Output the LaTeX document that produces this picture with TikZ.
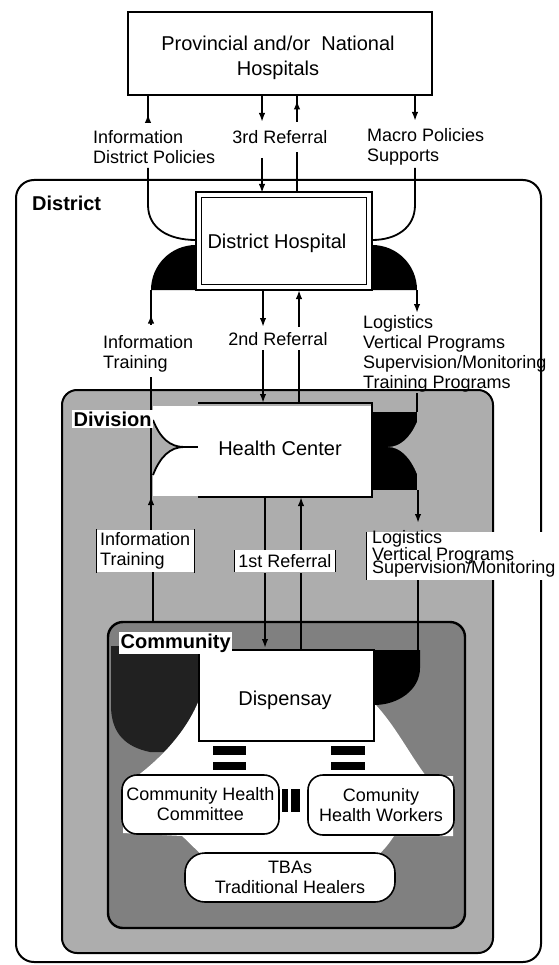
\documentclass[tikz,border=0pt]{standalone}
\usepackage{fontspec}
\setmainfont{Liberation Sans}
\usetikzlibrary{arrows.meta,decorations.markings}
\definecolor{divgray}{gray}{0.68}
\definecolor{comgray}{gray}{0.50}
\definecolor{darkw}{gray}{0.13}
\begin{document}
\begin{tikzpicture}[x=1pt,y=-1pt,
  big/.style={font=\fontsize{20}{25}\selectfont, inner sep=0pt, align=center},
  lab/.style={font=\fontsize{18}{20}\selectfont, inner sep=0pt, align=left, anchor=west},
  ttl/.style={font=\fontsize{20}{22}\selectfont\bfseries, inner sep=0pt, anchor=west},
  box/.style={draw, line width=1.8pt, fill=white, inner sep=0pt},
  region/.style={draw, line width=2pt, inner sep=0pt},
  rbox/.style={draw, line width=1.6pt, fill=white, inner sep=0pt, align=center, font=\fontsize{18}{20}\selectfont},
  ln/.style={line width=1.8pt},
  arr/.style={-{Latex[length=9pt,width=6.5pt]}},
  midarr/.style={postaction={decorate},decoration={markings,mark=at position #1 with {\arrow{Latex[length=9pt,width=6.5pt]}}}},
]
\useasboundingbox (0,0) rectangle (558,965);

% ---------- nested regions ----------
\node[region, fill=white, minimum width=525pt, minimum height=782pt, rounded corners=18pt] (district) at (278.5,571) {};
\node[region, fill=divgray, minimum width=431pt, minimum height=563pt, rounded corners=15pt] (division) at (277.5,671.5) {};
\node[region, line width=2.4pt, fill=comgray, minimum width=357pt, minimum height=306pt, rounded corners=15pt] (community) at (286.5,775) {};

% dark area left of the dispensary
\fill[darkw] (111,646) -- (199,646) -- (199,752) -- (150,752) .. controls (126,747) and (112,734) .. (111,708) -- cycle;
% white area around the community actors
\fill[white] (199,700) .. controls (185,735) and (155,765) .. (123,786) -- (123,833) -- (182,836) .. controls (190,843) and (195,849) .. (202,855) -- (378,855) .. controls (385,849) and (390,842) .. (394,836) -- (453,836) -- (453,776) -- (426,776) .. controls (410,755) and (395,725) .. (374,703) -- cycle;

% ---------- top box ----------
\node[box, minimum width=304pt, minimum height=83pt] (prov) at (280,53.5) {};
\node[big] (provt) at (278,57.5) {Provincial and/or\ \ National\\Hospitals};

% ---------- district hospital ----------
\fill (151,290) .. controls (151,265) and (171,245) .. (196,245) -- (196,290) -- cycle;
\fill (417,290) .. controls (417,265) and (397,245) .. (372,245) -- (372,290) -- cycle;
\node[box, minimum width=176pt, minimum height=98pt] (dh) at (284,241) {};
\node[draw, line width=0.8pt, inner sep=0pt, minimum width=165pt, minimum height=87pt] (dhin) at (284,241) {};
\node[big] (dht) at (277,243) {District Hospital};

% ---------- health center ----------
\node[fill=white, inner sep=0pt, minimum width=219pt, minimum height=90pt] (hc) at (262.5,451) {};
\draw[line width=1.8pt] (198,403) -- (372,403) -- (372,497) -- (198,497);
\fill[divgray] (153,420) .. controls (160,438) and (170,447) .. (184,447) .. controls (170,447) and (160,457) .. (153,475) -- cycle;
\coordinate (ntipL) at (184,447);
\coordinate (hcL) at (198,447);
\draw[line width=1.8pt] (153,420) .. controls (160,438) and (170,447) .. (ntipL) .. controls (170,447) and (160,457) .. (153,475);
\draw[line width=1.8pt] (ntipL) -- (hcL);
\fill (372,412) rectangle (417,490);
\fill[divgray] (417,422) .. controls (410,438) and (400,447) .. (388,447) .. controls (400,447) and (410,457) .. (417,474) -- cycle;
\node[big] (hct) at (280,448) {Health Center};

% ---------- dispensary ----------
\fill (374,650) -- (420,650) -- (420,668) .. controls (420,690) and (398,705) .. (374,705) -- cycle;
\node[box, minimum width=175pt, minimum height=91pt] (disp) at (286.5,695.5) {};
\node[big] (dispt) at (285,700) {Dispensay};

% ---------- community actors ----------
\node[rbox, rounded corners=15pt, minimum width=157pt, minimum height=59pt] (chc) at (200.5,804.5) {Community Health\\Committee};
\node[rbox, rounded corners=15pt, minimum width=146pt, minimum height=60pt] (chw) at (381,805) {Comunity\\Health Workers};
\node[rbox, rounded corners=20pt, minimum width=210pt, minimum height=49pt] (tba) at (290,877.5) {TBAs\\Traditional Healers};

% link bars
\fill (213,746) rectangle (246,755);
\fill (213,762) rectangle (246,770);
\fill (331,746) rectangle (365,755);
\fill (331,762) rectangle (365,770);
\fill (282,789) rectangle (288,812);
\fill (291,789) rectangle (300,812);

% ---------- coordinates for connectors ----------
\coordinate (a1) at (148,122);   \coordinate (a1t) at (148,95);
\coordinate (b1) at (148,168);   \coordinate (b1m) at (148,205);
\coordinate (dhL) at (196,240);  \coordinate (dhR) at (372,240);
\coordinate (a2t) at (262,95);   \coordinate (a2) at (262,122);
\coordinate (b2) at (262,158);   \coordinate (b2e) at (262,193);
\coordinate (a3t) at (297,95);   \coordinate (a3) at (297,122);
\coordinate (b3) at (297,152);   \coordinate (b3e) at (297,193);
\coordinate (a4t) at (415,95);   \coordinate (a4) at (415,121);
\coordinate (b4) at (415,168);   \coordinate (b4m) at (415,205);

\coordinate (c1t) at (151,290);  \coordinate (c1) at (151,325);
\coordinate (d1) at (151,377);   \coordinate (d1e) at (151,532);
\coordinate (c2t) at (263,290);  \coordinate (c2) at (263,327);
\coordinate (d2) at (263,350);   \coordinate (d2e) at (263,403);
\coordinate (c3t) at (299,290);  \coordinate (c3) at (299,327);
\coordinate (d3) at (299,350);   \coordinate (d3e) at (299,403);
\coordinate (c4t) at (417,290);  \coordinate (c4) at (417,313);
\coordinate (d4) at (417,393);   \coordinate (d4e) at (417,412);

\coordinate (e1) at (153,572);   \coordinate (e1e) at (153,622);
\coordinate (e2t) at (265,497);  \coordinate (e2) at (265,550);
\coordinate (f2) at (265,573);   \coordinate (f2e) at (265,648);
\coordinate (e3t) at (301,497);  \coordinate (e3) at (301,550);
\coordinate (f3) at (301,573);   \coordinate (f3e) at (301,650);
\coordinate (e4t) at (418,490);  \coordinate (e4) at (418,523);
\coordinate (f4) at (418,580);   \coordinate (f4e) at (418,650);

% ---------- connectors: national <-> district ----------
\draw[ln, midarr=0.3] (a1) -- (a1t);
\draw[ln] (b1) -- (b1m) .. controls (148,228) and (168,240) .. (dhL);
\draw[ln, arr] (a2t) -- (a2);
\draw[ln, arr] (b2) -- (b2e);
\draw[ln] (b3e) -- (b3);
\draw[ln, midarr=0.8] (a3) -- (a3t);
\draw[ln, arr] (a4t) -- (a4);
\draw[ln] (b4) -- (b4m) .. controls (415,228) and (396,240) .. (dhR);

% ---------- connectors: district <-> division ----------
\draw[ln, midarr=0.3] (c1) -- (c1t);
\draw[ln, midarr=36pt] (d1e) -- (d1);
\draw[ln, arr] (c2t) -- (c2);
\draw[ln, arr] (d2) -- (d2e);
\draw[ln] (d3e) -- (d3);
\draw[ln, arr] (c3) -- (c3t);
\draw[ln, arr] (c4t) -- (c4);
\draw[ln] (d4) -- (d4e);

% ---------- connectors: division <-> community ----------
\draw[ln] (e1) -- (e1e);
\draw[ln] (e2t) -- (e2);
\draw[ln, arr] (f2) -- (f2e);
\draw[ln] (f3e) -- (f3);
\draw[ln, arr] (e3) -- (e3t);
\draw[ln, arr] (e4t) -- (e4);
\draw[ln] (f4) -- (f4e);

% ---------- labels ----------
\node[ttl] (distl) at (32,203) {District};
\node[lab] (l1) at (93,147) {Information\\District Policies};
\node[lab, anchor=center] (l2) at (280,137) {3rd Referral};
\node[lab] (l3) at (367,147) {Macro Policies\\Supports};
\node[lab] (l4) at (103,354) {Information\\Training};
\node[lab, anchor=center] (l5) at (278,339) {2nd Referral};
\node[lab] (l6) at (363,354) {Logistics\\Vertical Programs\\Supervision/Monitoring\\Training Programs};

\node[ttl, fill=white, inner sep=1.5pt] (divl) at (72,419) {Division};
\node[lab, fill=white, inner xsep=4pt, inner ysep=3pt] (l7) at (96,551) {Information\\Training};
\draw[line width=1pt] (l7.north west) -- (l7.south west);
\draw[line width=1pt] (l7.north east) -- (l7.south east);
\node[lab, anchor=center, fill=white, inner xsep=4pt, inner ysep=4pt] (l8) at (285,561) {1st Referral};
\draw[line width=1pt] (l8.north west) -- (l8.south west);
\draw[line width=1pt] (l8.north east) -- (l8.south east);
\node[fill=white, inner sep=0pt, minimum width=191pt, minimum height=48pt] (l9bg) at (462.5,556) {};
\draw[line width=1pt] (l9bg.north west) -- (l9bg.south west);
\node[lab] (l9a) at (372,539) {Logistics};
\node[lab] (l9b) at (372,556) {Vertical Programs};
\node[lab] (l9c) at (372,569) {Supervision/Monitoring};

\node[ttl, fill=white, inner sep=1.5pt] (coml) at (119,643) {Community};
\end{tikzpicture}
\end{document}
